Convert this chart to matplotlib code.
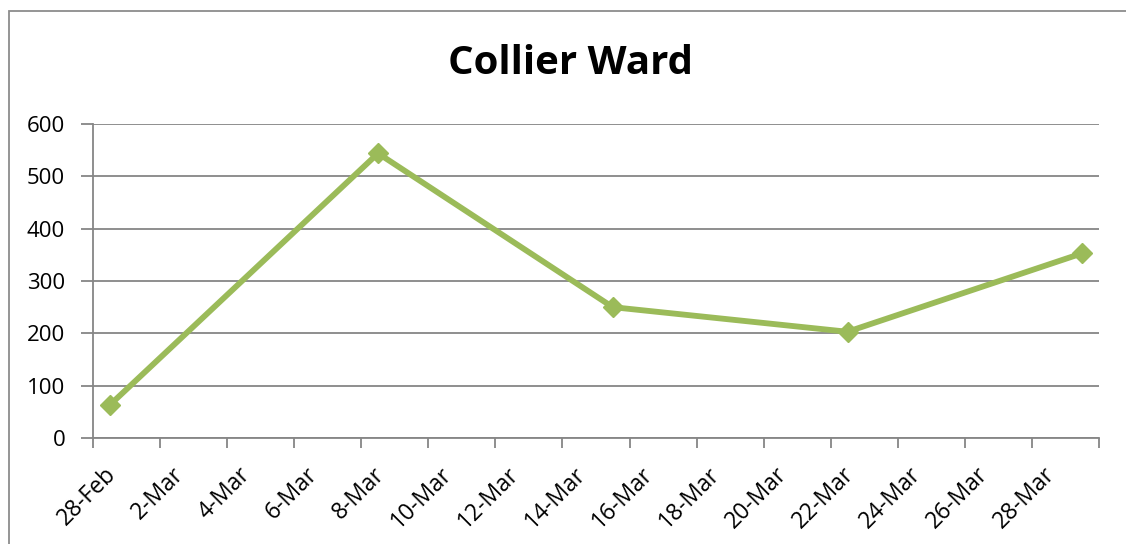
import pandas as pd
import matplotlib.pyplot as plt
import matplotlib.dates as mdates
from matplotlib.patches import Rectangle
from matplotlib.transforms import ScaledTranslation, blended_transform_factory

plt.rcParams.update({'font.family': ['Open Sans', 'DejaVu Sans']})

# data
dates = ['2015-02-28', '2015-03-08', '2015-03-15', '2015-03-22', '2015-03-29']
values = [63, 544, 250, 203, 353]
title = 'Collier Ward'

x = mdates.date2num(pd.to_datetime(dates)) + 0.5  # points sit in the middle of the day slot
start = mdates.date2num(pd.Timestamp('2015-02-28'))
end = mdates.date2num(pd.Timestamp('2015-03-30'))

fig = plt.figure(figsize=(11.26, 5.44), dpi=100)
ax = fig.add_axes([93/1126, 1-438/544, (1099-93)/1126, (438-124)/544])

grey = '#868686'
ax.plot(x, values, color='#9BBB59', lw=4.2, marker='D', ms=10.5, zorder=3)

ax.set_xlim(start, end)
ax.set_ylim(0, 600)
ax.set_yticks(range(0, 601, 100))
ax.grid(axis='y', color=grey, lw=1.3)
ax.set_axisbelow(True)

ticks = [start + 2*i for i in range(16)]
ax.set_xticks(ticks)
ax.set_xticklabels([])
# rotated date labels, drawn as text so they can be nudged like Excel places them
trans = blended_transform_factory(ax.transData, ax.transAxes) + \
    ScaledTranslation(20/100, -33/100, fig.dpi_scale_trans)
for t in ticks[:-1]:
    d = mdates.num2date(t)
    ax.text(t, 0, f"{d.day}-{d.strftime('%b')}", transform=trans, rotation=45,
            ha='right', va='center', rotation_mode='anchor', fontsize=16.5, clip_on=False)

for s in ['top', 'right']:
    ax.spines[s].set_visible(False)
for s in ['left', 'bottom']:
    ax.spines[s].set_color(grey)
    ax.spines[s].set_linewidth(1.3)
ax.tick_params(axis='x', length=7, width=1.3, color=grey)
ax.tick_params(axis='y', length=9, width=1.3, color=grey, labelsize=16, pad=11)

fig.text(570/1126, 1-63/544, title, ha='center', va='center', fontsize=29, fontweight='bold')

# outer chart border
fig.patches.append(Rectangle((9/1126, -0.5), 2, 1.5 - 11/544, transform=fig.transFigure,
                             fill=False, ec='#8c8c8c', lw=1.3))

fig.savefig('out.png', dpi=100)
